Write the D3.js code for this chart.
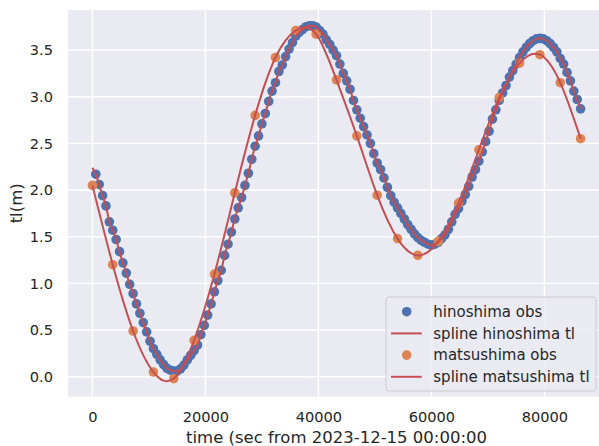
<!DOCTYPE html>
<html>
<head>
<meta charset="utf-8">
<script src="https://cdn.jsdelivr.net/npm/d3@7"></script>
<style>
  body { margin: 0; background: #fff; }
  svg { display: block; font-family: "DejaVu Sans", sans-serif; }
</style>
</head>
<body>
<svg id="chart" width="599" height="446"></svg>
<script>
// hinoshima obs, every 600 s from 600 to 86400
const hinoStart = 600;
const hinoStep = 600;
const hinoLevels = [
  2.17, 2.06, 1.94, 1.83, 1.66, 1.57, 1.47, 1.34, 1.22, 1.11,
  0.99, 0.89, 0.78, 0.68, 0.58, 0.48, 0.38, 0.30, 0.24, 0.18,
  0.13, 0.09, 0.07, 0.06, 0.06, 0.085, 0.125, 0.18, 0.23, 0.28,
  0.34, 0.45, 0.55, 0.66, 0.78, 0.91, 1.03, 1.14, 1.30, 1.42,
  1.55, 1.69, 1.81, 1.92, 2.05, 2.18, 2.33, 2.47, 2.58, 2.71,
  2.82, 2.95, 3.06, 3.15, 3.27, 3.34, 3.43, 3.51, 3.58, 3.65,
  3.69, 3.72, 3.75, 3.76, 3.76, 3.745, 3.71, 3.67, 3.61, 3.56,
  3.50, 3.44, 3.35, 3.25, 3.17, 3.08, 2.96, 2.86, 2.77, 2.68,
  2.59, 2.50, 2.39, 2.29, 2.22, 2.13, 2.03, 1.94, 1.87, 1.81,
  1.75, 1.69, 1.63, 1.58, 1.53, 1.49, 1.46, 1.44, 1.42, 1.41,
  1.42, 1.44, 1.48, 1.52, 1.58, 1.66, 1.74, 1.80, 1.88, 1.95,
  2.04, 2.14, 2.22, 2.31, 2.41, 2.52, 2.63, 2.76, 2.86, 2.96,
  3.04, 3.12, 3.21, 3.28, 3.35, 3.42, 3.48, 3.53, 3.57, 3.60,
  3.62, 3.625, 3.62, 3.60, 3.57, 3.53, 3.48, 3.41, 3.35, 3.26,
  3.17, 3.06, 2.97, 2.87
];
// spline value for hinoshima at t = 0
const hinoSplineStart = 2.24;

// matsushima obs, hourly from 0 to 86400
const matsuStart = 0;
const matsuStep = 3600;
const matsuLevels = [
  2.05, 1.20, 0.49, 0.05, -0.02, 0.39, 1.10, 1.97, 2.80, 3.42,
  3.71, 3.67, 3.18, 2.58, 1.945, 1.48, 1.30, 1.45, 1.86, 2.43,
  2.99, 3.36, 3.45, 3.15, 2.55
];

const xTicks = [0, 20000, 40000, 60000, 80000];
const yTicks = [0.0, 0.5, 1.0, 1.5, 2.0, 2.5, 3.0, 3.5];
const legendLabels = ["hinoshima obs", "spline hinoshima tl", "matsushima obs", "spline matsushima tl"];
const xLabel = "time (sec from 2023-12-15 00:00:00";
const yLabel = "tl(m)";

const blue = "#4C72B0", orange = "#DD8452", red = "#C44E52";
const textColor = "#262626";

const hino = hinoLevels.map((v, i) => ({t: hinoStart + i * hinoStep, v}));
const matsu = matsuLevels.map((v, i) => ({t: matsuStart + i * matsuStep, v}));

const svg = d3.select("#chart");
const plot = {left: 68, top: 10, right: 605, bottom: 396.7};

const x = d3.scaleLinear().domain([-4320, 90720]).range([plot.left, plot.right]);
const y = d3.scaleLinear().domain([-0.214, 3.929]).range([plot.bottom, plot.top]);

svg.append("defs").append("clipPath").attr("id", "clip")
  .append("rect")
  .attr("x", plot.left).attr("y", plot.top)
  .attr("width", plot.right - plot.left).attr("height", plot.bottom - plot.top);

// axes background
svg.append("rect")
  .attr("x", plot.left).attr("y", plot.top)
  .attr("width", plot.right - plot.left).attr("height", plot.bottom - plot.top)
  .attr("fill", "#EAEAF2");

// grid
const grid = svg.append("g").attr("clip-path", "url(#clip)");
grid.selectAll(".gx").data(xTicks).enter().append("line")
  .attr("x1", d => x(d)).attr("x2", d => x(d))
  .attr("y1", plot.top).attr("y2", plot.bottom)
  .attr("stroke", "#fff").attr("stroke-width", 1.4);
grid.selectAll(".gy").data(yTicks).enter().append("line")
  .attr("x1", plot.left).attr("x2", plot.right)
  .attr("y1", d => y(d)).attr("y2", d => y(d))
  .attr("stroke", "#fff").attr("stroke-width", 1.4);

// tick labels
const xAxis = svg.append("g")
  .attr("transform", `translate(0,${plot.bottom})`)
  .call(d3.axisBottom(x).tickValues(xTicks).tickFormat(d3.format("d")).tickSize(0).tickPadding(15));
const yAxis = svg.append("g")
  .attr("transform", `translate(${plot.left},0)`)
  .call(d3.axisLeft(y).tickValues(yTicks).tickFormat(d3.format(".1f")).tickSize(0).tickPadding(15));
[xAxis, yAxis].forEach(a => {
  a.select(".domain").remove();
  a.selectAll("text").attr("fill", textColor).style("font-size", "14.6px").style("font-family", "DejaVu Sans");
});

// axis labels
svg.append("text")
  .attr("x", (plot.left + plot.right) / 2).attr("y", 443)
  .attr("text-anchor", "middle").attr("fill", textColor)
  .style("font-size", "16.5px").text(xLabel);
svg.append("text")
  .attr("transform", `translate(22,${(plot.top + plot.bottom) / 2}) rotate(-90)`)
  .attr("text-anchor", "middle").attr("fill", textColor)
  .style("font-size", "16.5px").text(yLabel);

// data
const g = svg.append("g").attr("clip-path", "url(#clip)");
g.selectAll(".hino").data(hino).enter().append("circle")
  .attr("cx", d => x(d.t)).attr("cy", d => y(d.v)).attr("r", 4.8)
  .attr("fill", blue);
g.selectAll(".matsu").data(matsu).enter().append("circle")
  .attr("cx", d => x(d.t)).attr("cy", d => y(d.v)).attr("r", 4.8)
  .attr("fill", orange);

const line = d3.line().x(d => x(d.t)).y(d => y(d.v)).curve(d3.curveNatural);
g.append("path").datum([{t: 0, v: hinoSplineStart}].concat(hino))
  .attr("d", line).attr("fill", "none").attr("stroke", red).attr("stroke-width", 2);
g.append("path").datum(matsu)
  .attr("d", line).attr("fill", "none").attr("stroke", red).attr("stroke-width", 2);

// legend
const leg = svg.append("g").attr("transform", "translate(386,297)");
leg.append("rect")
  .attr("width", 210).attr("height", 94).attr("rx", 3)
  .attr("fill", "#EAEAF2").attr("fill-opacity", 0.8)
  .attr("stroke", "#CCCCCC").attr("stroke-width", 1);
const rows = leg.selectAll(".row").data(legendLabels).enter().append("g")
  .attr("transform", (d, i) => `translate(0,${14.7 + i * 21.7})`);
rows.each(function (d, i) {
  const r = d3.select(this);
  if (i % 2 === 0) {
    r.append("circle").attr("cx", 20.7).attr("cy", 0).attr("r", 4.8)
      .attr("fill", i === 0 ? blue : orange);
  } else {
    r.append("line").attr("x1", 5).attr("x2", 35.7).attr("y1", 0).attr("y2", 0)
      .attr("stroke", red).attr("stroke-width", 2);
  }
  r.append("text").attr("x", 47.3).attr("y", 0).attr("dy", "0.35em")
    .attr("fill", textColor).style("font-size", "15px").text(d);
});
</script>
</body>
</html>
